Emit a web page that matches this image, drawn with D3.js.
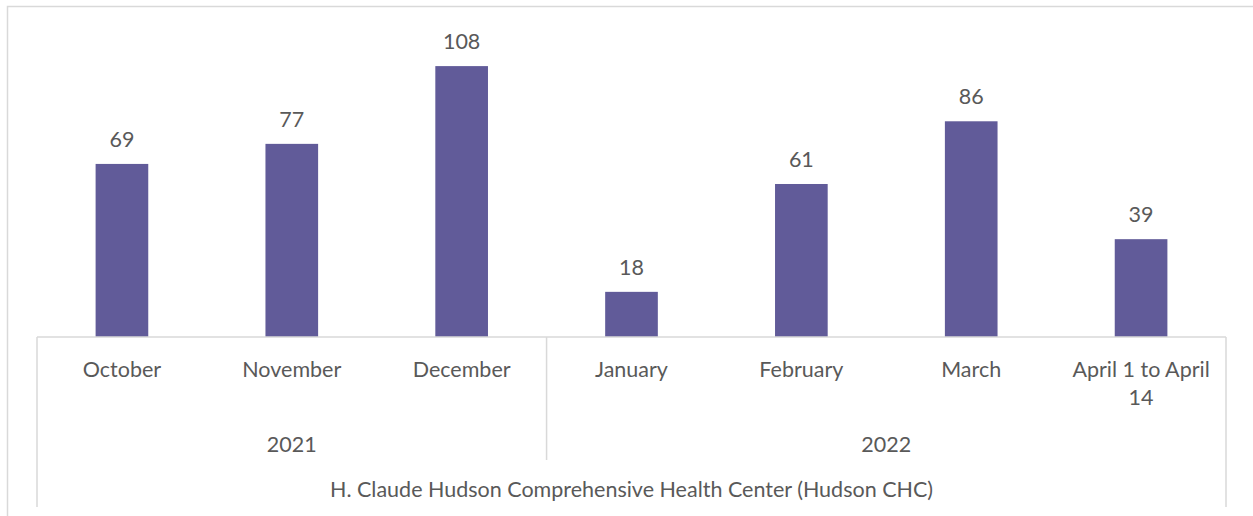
<!DOCTYPE html>
<html>
<head>
<meta charset="utf-8">
<script src="https://cdn.jsdelivr.net/npm/d3@7"></script>
<style>
  html, body { margin: 0; padding: 0; background: #fff; }
  svg { display: block; }
  text { font-family: Lato, "Open Sans", sans-serif; fill: #595959; }
</style>
</head>
<body>
<svg id="chart" width="1253" height="516"></svg>
<script>
// Data
const months = ["October", "November", "December", "January", "February", "March", "April 1 to April 14"];
const monthLines = [["October"], ["November"], ["December"], ["January"], ["February"], ["March"], ["April 1 to April", "14"]];
const years = ["2021", "2021", "2021", "2022", "2022", "2022", "2022"];
const values = [69, 77, 108, 18, 61, 86, 39];
const yearGroups = ["2021", "2022"];
const groupTitle = "H. Claude Hudson Comprehensive Health Center (Hudson CHC)";

const svg = d3.select("#chart");
const W = 1253, H = 516;
const left = 37, right = 1226, baseY = 337, topY = 36;
const fontSize = 21.5;
const lineColor = "#d9d9d9";
const barColor = "#615b99";

// outer chart border
svg.append("path")
  .attr("d", `M7.5,${H + 2} V6.5 H${W + 2}`)
  .attr("fill", "none").attr("stroke", lineColor).attr("stroke-width", 1.5);

const x = d3.scaleBand().domain(months).range([left, right]).paddingInner(0.69).paddingOuter(0.345);
const y = d3.scaleLinear().domain([0, 120]).range([baseY, topY]);

// bars
svg.append("g").selectAll("rect").data(values).join("rect")
  .attr("x", (d, i) => x(months[i]))
  .attr("y", d => y(d))
  .attr("width", x.bandwidth())
  .attr("height", d => y(0) - y(d))
  .attr("fill", barColor);

// value labels
svg.append("g").selectAll("text").data(values).join("text")
  .attr("x", (d, i) => x(months[i]) + x.bandwidth() / 2)
  .attr("y", d => y(d) - 17)
  .attr("text-anchor", "middle")
  .attr("font-size", fontSize)
  .text(d => d);

// axis lines
const ax = svg.append("g").attr("stroke", lineColor).attr("stroke-width", 1.5).attr("fill", "none");
ax.append("line").attr("x1", left).attr("x2", right).attr("y1", baseY).attr("y2", baseY);
ax.append("line").attr("x1", left).attr("x2", left).attr("y1", baseY).attr("y2", 507);
ax.append("line").attr("x1", right).attr("x2", right).attr("y1", baseY).attr("y2", 507);

// year group divider
const step = x.step();
const groupBounds = yearGroups.map(g => {
  const idx = years.map((yv, i) => yv === g ? i : -1).filter(i => i >= 0);
  const x0 = x(months[idx[0]]) - x.paddingOuter() * step;
  const x1 = x(months[idx[idx.length - 1]]) - x.paddingOuter() * step + step;
  return { g, x0, x1 };
});
groupBounds.slice(1).forEach(b => {
  ax.append("line").attr("x1", b.x0).attr("x2", b.x0).attr("y1", baseY).attr("y2", 460);
});

// month labels
const ml = svg.append("g");
months.forEach((m, i) => {
  const t = ml.append("text")
    .attr("x", x(m) + x.bandwidth() / 2)
    .attr("y", 377)
    .attr("text-anchor", "middle")
    .attr("font-size", fontSize);
  monthLines[i].forEach((ln, j) => {
    t.append("tspan").attr("x", x(m) + x.bandwidth() / 2).attr("dy", j === 0 ? 0 : 28).text(ln);
  });
});

// year labels
svg.append("g").selectAll("text").data(groupBounds).join("text")
  .attr("x", d => (d.x0 + d.x1) / 2)
  .attr("y", 452)
  .attr("text-anchor", "middle")
  .attr("font-size", fontSize)
  .text(d => d.g);

// group title
svg.append("text")
  .attr("x", (left + right) / 2)
  .attr("y", 497)
  .attr("text-anchor", "middle")
  .attr("font-size", fontSize)
  .text(groupTitle);
</script>
</body>
</html>
